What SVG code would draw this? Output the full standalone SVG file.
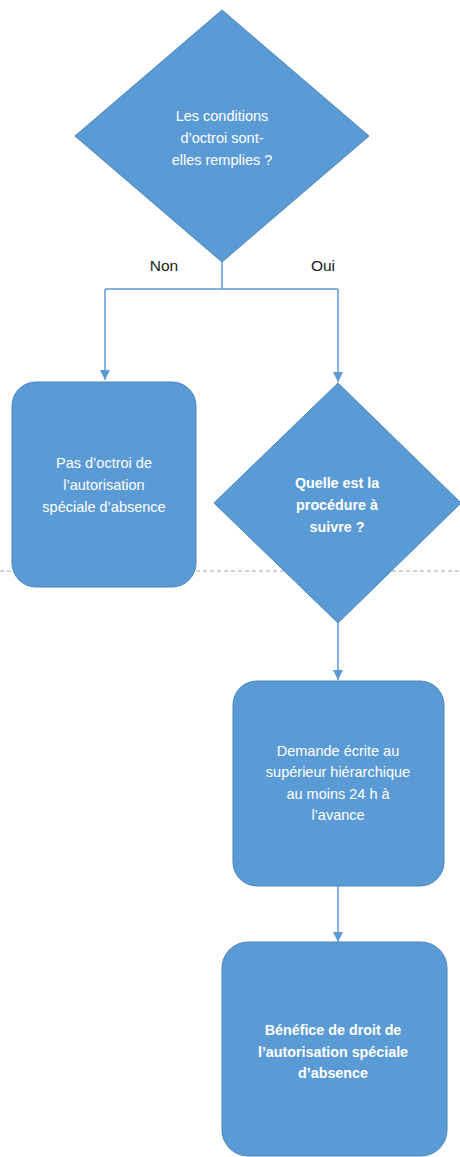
<svg xmlns="http://www.w3.org/2000/svg" width="460" height="1157" viewBox="0 0 460 1157">
<style>
.shape{fill:#5B9BD5;stroke:#4A86BE;stroke-width:1}
.t{font-family:"Liberation Sans",Arial,sans-serif;font-size:14.5px;fill:#FFFFFF;text-anchor:middle}
.b{font-weight:bold;font-size:14.3px}
.conn{fill:none;stroke:#5B9BD5;stroke-width:1.5}
.lbl{font-family:"Liberation Sans",Arial,sans-serif;font-size:15.5px;fill:#1a1a1a;text-anchor:middle}
</style>
<defs>
<marker id="ah" viewBox="0 0 10 10" refX="10" refY="5" markerWidth="10" markerHeight="10" markerUnits="userSpaceOnUse" orient="auto">
<path d="M0,0 L10,5 L0,10 Z" fill="#5B9BD5"/>
</marker>
</defs>
<rect width="460" height="1157" fill="#FFFFFF"/>
<line x1="0" y1="571" x2="460" y2="571" stroke="#A6A6A6" stroke-width="1" stroke-dasharray="4 3"/>
<g id="connectors">
<polyline class="conn" points="222,262 222,289"/>
<polyline class="conn" points="105,289 338,289"/>
<polyline class="conn" points="105,289 105,380" marker-end="url(#ah)"/>
<polyline class="conn" points="338,289 338,382" marker-end="url(#ah)"/>
<polyline class="conn" points="338,623 338,680" marker-end="url(#ah)"/>
<polyline class="conn" points="338,886 338,942" marker-end="url(#ah)"/>
<text class="lbl" x="164" y="271">Non</text>
<text class="lbl" x="323" y="271">Oui</text>
</g>
<g id="d1">
<polygon class="shape" points="222,10 369,136 222,262 75,136"/>
<text class="t" x="222" y="121">Les conditions</text>
<text class="t" x="222" y="143">d’octroi sont-</text>
<text class="t" x="222" y="165">elles remplies ?</text>
</g>
<g id="r1">
<rect class="shape" x="12" y="382" width="184" height="205" rx="24"/>
<text class="t" x="104" y="468">Pas d’octroi de</text>
<text class="t" x="104" y="490">l’autorisation</text>
<text class="t" x="104" y="512">spéciale d’absence</text>
</g>
<g id="d2">
<polygon class="shape" points="338,383 461,503 338,623 214,503"/>
<text class="t b" x="337" y="488">Quelle est la</text>
<text class="t b" x="337" y="510">procédure à</text>
<text class="t b" x="337" y="532">suivre ?</text>
</g>
<g id="r2">
<rect class="shape" x="233" y="681" width="211" height="205" rx="24"/>
<text class="t" x="338" y="756">Demande écrite au</text>
<text class="t" x="338" y="777">supérieur hiérarchique</text>
<text class="t" x="338" y="799">au moins 24 h à</text>
<text class="t" x="338" y="820">l’avance</text>
</g>
<g id="r3">
<rect class="shape" x="222" y="942" width="225" height="214" rx="26"/>
<text class="t b" x="333" y="1035">Bénéfice de droit de</text>
<text class="t b" x="333" y="1057">l’autorisation spéciale</text>
<text class="t b" x="333" y="1078">d’absence</text>
</g>
</svg>
